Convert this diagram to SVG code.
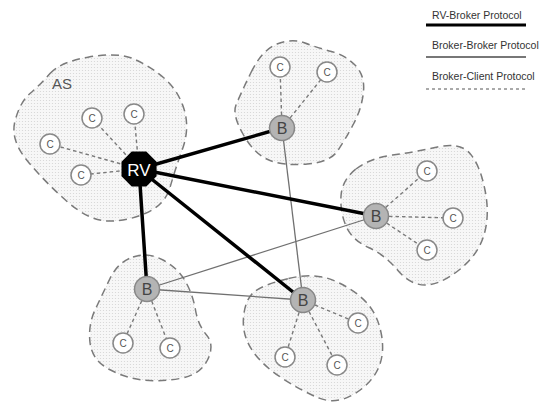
<svg xmlns="http://www.w3.org/2000/svg" width="546" height="406" viewBox="0 0 546 406">
<defs>
<pattern id="dots" width="3" height="3" patternUnits="userSpaceOnUse">
<rect width="3" height="3" fill="#f7f7f7"/>
<circle cx="1.5" cy="1.5" r="0.6" fill="#d4d4d4"/>
</pattern>
</defs>
<style>
.blob{fill:url(#dots);stroke:#7a7a7a;stroke-width:1.5;stroke-dasharray:8,5}
.rb{stroke:#000;stroke-width:3.5;stroke-linecap:round}
.bb{stroke:#707070;stroke-width:1.3}
.bc{stroke:#7a7a7a;stroke-width:1.4;stroke-dasharray:3.5,3}
.c circle{fill:#fff;stroke:#888;stroke-width:1.5}
.c text{font-family:"Liberation Sans",Arial,sans-serif;font-size:10px;fill:#555;text-anchor:middle}
.b circle{fill:#b4b4b4;stroke:#888;stroke-width:1.5}
.b text{font-family:"Liberation Sans",Arial,sans-serif;font-size:16px;fill:#444;text-anchor:middle}
.leg{font-family:"Liberation Sans",Arial,sans-serif;font-size:10.5px;fill:#333}
</style>
<g id="regions">
<path id="as-region" class="blob" d="M 50,73.5 Q 60,62 89,57 Q 118,52 134,59 Q 150,66 164,78 Q 178,90 184,109 Q 190,128 182.5,149 Q 175,170 170,187.5 Q 165,205 145,213.5 Q 125,222 106.5,221 Q 88,220 66.5,201 Q 45,182 27.5,161 Q 10,140 15,121 Q 20,102 30,93.5 Q 40,85 50,73.5 Z"/>
<path id="b1-region" class="blob" d="M 251,72.5 Q 262,50 277,44 Q 292,38 305,43 Q 318,48 331.5,51.5 Q 345,55 355,65 Q 365,75 363.5,91.5 Q 362,108 353.5,124 Q 345,140 337.5,151 Q 330,162 307.5,164 Q 285,166 270,160.5 Q 255,155 243.5,135 Q 232,115 236,105 Q 240,95 251,72.5 Z"/>
<path id="b2-region" class="blob" d="M 356,169 Q 370,158 392.5,155 Q 415,152 437.5,147 Q 460,142 470,153.5 Q 480,165 485,190 Q 490,215 484,235 Q 478,255 459,270 Q 440,285 425,285 Q 410,285 397.5,270 Q 385,255 368.5,247.5 Q 352,240 346,226 Q 340,212 341,196 Q 342,180 356,169 Z"/>
<path id="b3-region" class="blob" d="M 133,257 Q 148,252 163,260 Q 178,268 185.5,281.5 Q 193,295 195.5,310 Q 198,325 206.5,335 Q 215,345 207.5,360 Q 200,375 180,378.5 Q 160,382 142.5,380 Q 125,378 108.5,369 Q 92,360 90,342.5 Q 88,325 95,310 Q 102,295 110,278.5 Q 118,262 133,257 Z"/>
<path id="b4-region" class="blob" d="M 288.5,278.5 Q 315,272 335,281 Q 355,290 366.5,302.5 Q 378,315 381.5,335 Q 385,355 377.5,370 Q 370,385 352.5,395 Q 335,405 317.5,397.5 Q 300,390 281,377.5 Q 262,365 252,350 Q 242,335 243.5,317.5 Q 245,300 253.5,292.5 Q 262,285 288.5,278.5 Z"/>
<text x="52" y="89" font-family="Liberation Sans,Arial,sans-serif" font-size="15" fill="#555">AS</text>
</g>
<g id="connectors">
<line class="bc" x1="139" y1="169" x2="92" y2="118"/>
<line class="bc" x1="139" y1="169" x2="134" y2="114"/>
<line class="bc" x1="139" y1="169" x2="50" y2="144"/>
<line class="bc" x1="139" y1="169" x2="81" y2="175"/>
<line class="bc" x1="282" y1="128" x2="280" y2="67"/>
<line class="bc" x1="282" y1="128" x2="327" y2="72"/>
<line class="bc" x1="376" y1="216" x2="427" y2="171"/>
<line class="bc" x1="376" y1="216" x2="453" y2="218"/>
<line class="bc" x1="376" y1="216" x2="427" y2="250"/>
<line class="bc" x1="147" y1="289" x2="123" y2="343"/>
<line class="bc" x1="147" y1="289" x2="170" y2="348"/>
<line class="bc" x1="303" y1="300" x2="358" y2="323"/>
<line class="bc" x1="303" y1="300" x2="285" y2="357"/>
<line class="bc" x1="303" y1="300" x2="337" y2="365"/>
<line class="bb" x1="282" y1="128" x2="303" y2="300"/>
<line class="bb" x1="147" y1="289" x2="376" y2="216"/>
<line class="bb" x1="147" y1="289" x2="303" y2="300"/>
<line class="rb" x1="139" y1="169" x2="282" y2="128"/>
<line class="rb" x1="139" y1="169" x2="376" y2="216"/>
<line class="rb" x1="139" y1="169" x2="147" y2="289"/>
<line class="rb" x1="139" y1="169" x2="303" y2="300"/>
</g>
<g id="rv">
<polygon points="156.6,161.7 146.3,151.5 131.7,151.5 121.5,161.7 121.5,176.3 131.7,186.5 146.3,186.5 156.6,176.3" fill="#000"/>
<text x="139" y="175.5" font-family="Liberation Sans,Arial,sans-serif" font-size="17" fill="#fff" text-anchor="middle">RV</text>
</g>
<g id="b1" class="b"><circle cx="282" cy="128" r="12.5"/><text x="282" y="134">B</text></g>
<g id="b2" class="b"><circle cx="376" cy="216" r="12.5"/><text x="376" y="222">B</text></g>
<g id="b3" class="b"><circle cx="147" cy="289" r="12.5"/><text x="147" y="295">B</text></g>
<g id="b4" class="b"><circle cx="303" cy="300" r="12.5"/><text x="303" y="306">B</text></g>
<g id="c1" class="c"><circle cx="92" cy="118" r="10"/><text x="92" y="121.5">C</text></g>
<g id="c2" class="c"><circle cx="134" cy="114" r="10"/><text x="134" y="117.5">C</text></g>
<g id="c3" class="c"><circle cx="50" cy="144" r="10"/><text x="50" y="147.5">C</text></g>
<g id="c4" class="c"><circle cx="81" cy="175" r="10"/><text x="81" y="178.5">C</text></g>
<g id="c5" class="c"><circle cx="280" cy="67" r="10"/><text x="280" y="70.5">C</text></g>
<g id="c6" class="c"><circle cx="327" cy="72" r="10"/><text x="327" y="75.5">C</text></g>
<g id="c7" class="c"><circle cx="427" cy="171" r="10"/><text x="427" y="174.5">C</text></g>
<g id="c8" class="c"><circle cx="453" cy="218" r="10"/><text x="453" y="221.5">C</text></g>
<g id="c9" class="c"><circle cx="427" cy="250" r="10"/><text x="427" y="253.5">C</text></g>
<g id="c10" class="c"><circle cx="123" cy="343" r="10"/><text x="123" y="346.5">C</text></g>
<g id="c11" class="c"><circle cx="170" cy="348" r="10"/><text x="170" y="351.5">C</text></g>
<g id="c12" class="c"><circle cx="358" cy="323" r="10"/><text x="358" y="326.5">C</text></g>
<g id="c13" class="c"><circle cx="285" cy="357" r="10"/><text x="285" y="360.5">C</text></g>
<g id="c14" class="c"><circle cx="337" cy="365" r="10"/><text x="337" y="368.5">C</text></g>
<g id="legend">
<text class="leg" x="432" y="18.5">RV-Broker Protocol</text>
<line x1="426" y1="25" x2="526" y2="25" stroke="#000" stroke-width="3"/>
<text class="leg" x="432" y="49">Broker-Broker Protocol</text>
<line x1="426" y1="57" x2="526" y2="57" stroke="#777" stroke-width="2"/>
<text class="leg" x="432" y="80">Broker-Client Protocol</text>
<line x1="426" y1="89" x2="527" y2="89" stroke="#555" stroke-width="1" stroke-dasharray="3,3"/>
</g>
</svg>
